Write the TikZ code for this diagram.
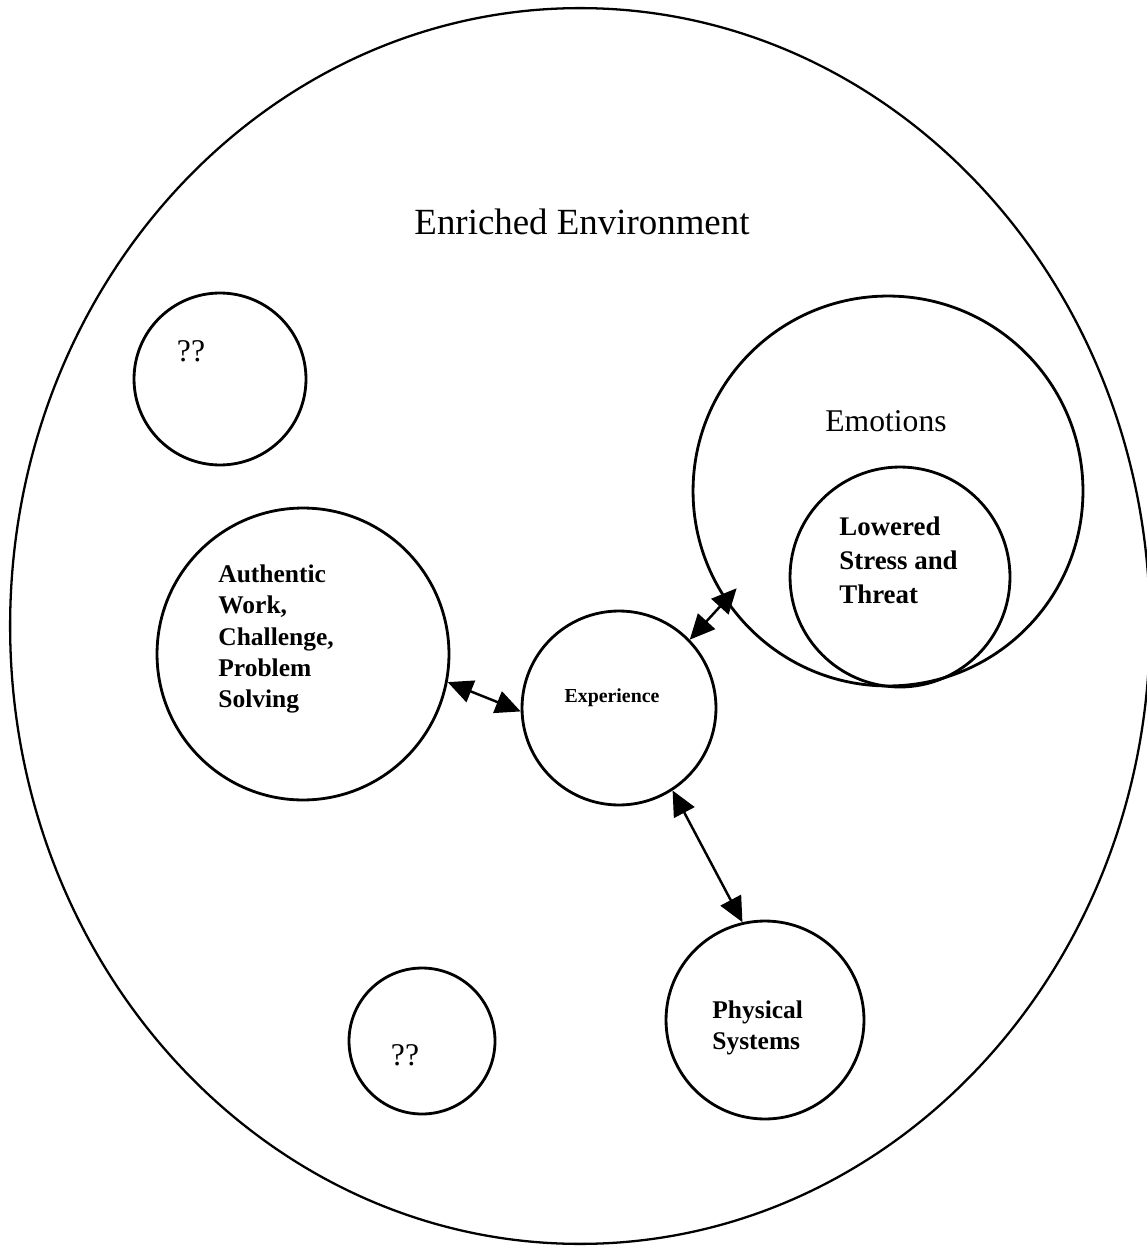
\documentclass[tikz,border=0pt]{standalone}
\usepackage{fontspec}
\setmainfont{Liberation Serif}
\usetikzlibrary{arrows.meta}

\begin{document}
\begin{tikzpicture}[x=0.02cm, y=-0.02cm, line width=1.6pt,
  bubble/.style={draw, circle, inner sep=0pt, minimum size=#1},
  link/.style={{Triangle[length=0.5cm, width=0.46cm]}-{Triangle[length=0.5cm, width=0.46cm]}, line width=1.4pt},
  bold/.style={align=left, inner sep=0pt, font=\fontsize{14.5}{17.8}\selectfont\bfseries},
  plain/.style={inner sep=0pt, font=\fontsize{#1}{#1}\selectfont}]
  \useasboundingbox (0,0) rectangle (1146,1246);
  % enriched environment
  \draw[line width=1.3pt] (580,626) ellipse [x radius=11.4cm, y radius=12.36cm];
  \node[plain=21] (title) at (582,222) {Enriched Environment};
  % bubbles
  \node[bubble=3.44cm] (qa) at (220,379) {};
  \node[bubble=5.84cm] (auth) at (303,654) {};
  \node[bubble=3.88cm] (exp) at (619,708) {};
  \node[bubble=7.8cm] (emo) at (888,491) {};
  \node[bubble=4.4cm] (low) at (900,577) {};
  \node[bubble=3.96cm] (phys) at (765,1020) {};
  \node[bubble=2.92cm] (qb) at (422,1041) {};
  % labels
  \node[plain=18] (qalbl) at (191,351) {??};
  \node[plain=18] (qblbl) at (405,1055) {??};
  \node[plain=18] (emolbl) at (886,421) {Emotions};
  \node[bold, anchor=west, font=\fontsize{15.3}{19.3}\selectfont\bfseries] (lowlbl) at (838,560) {Lowered\\Stress and\\Threat};
  \node[bold, anchor=west] (authlbl) at (217,639) {Authentic\\Work,\\Challenge,\\Problem\\Solving};
  \node[bold, anchor=west] (physlbl) at (711,1028) {Physical\\Systems};
  \node[plain=11.3, font=\fontsize{11.3}{12}\selectfont\bfseries] (explbl) at (612,698) {Experience};
  % connectors
  \draw[link] (auth.-11.5) -- (exp.182);
  \draw[link, shorten >=-0.34cm] (exp.44) -- (emo.214);
  \draw[link] (exp.-57.5) -- (phys.103.6);
\end{tikzpicture}
\end{document}
